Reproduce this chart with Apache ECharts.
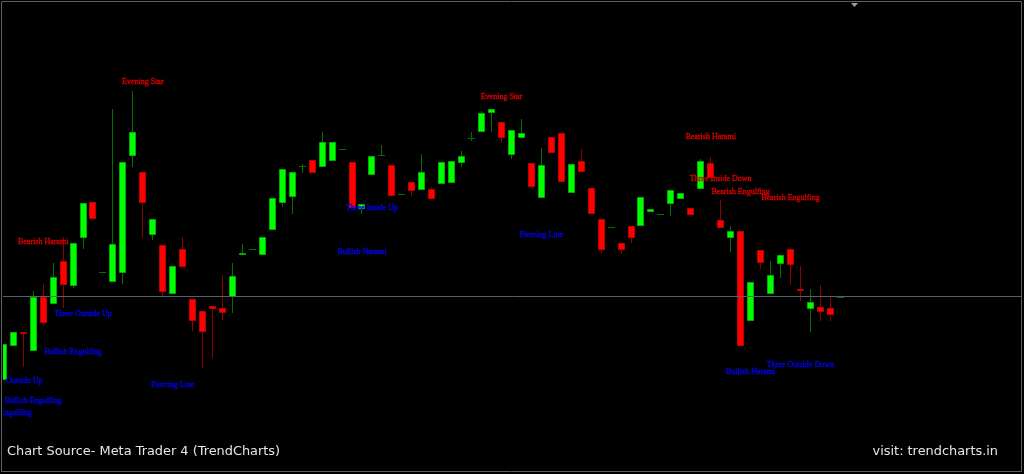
<!DOCTYPE html>
<html><head><meta charset="utf-8">
<style>html,body{margin:0;padding:0;background:#000;}#c{width:1024px;height:474px;}</style>
<script src="https://cdn.jsdelivr.net/npm/echarts@6/dist/echarts.min.js"></script>
</head><body><div id="c"></div>
<script>
// Candle values (price units)
const opens = [94.3,128.3,142,123,177.3,169.7,213,188.3,235.7,272,201.7,191.7,200.7,318.3,301.7,239,229,180,225,174.7,163,168,166,177.3,219.3,224.7,218.7,244.3,270.7,277.3,307.7,313.7,307.3,313,324.7,311.7,265,299,318.7,309,280,291.7,283.7,285.3,290.3,291,311.3,335.7,341.7,360.7,351.7,319,336.3,311,276.3,337,341,281,313.3,286.3,255,246.7,231,247.7,248,261.7,259.7,269.7,274.7,266,284.7,310.7,253.7,236.3,243,153.3,224,179.7,209.7,224.7,185,164.7,166.7,165.7,177.5];
const closes = [129.7,141.7,140.3,177.3,150.7,197,189,230.7,271.3,255,201.7,230,311.7,342.3,270.7,255.3,182.3,208,207.3,153.3,141.7,164.7,161,198.3,221.3,224.7,237,276,305.3,301.7,307.7,301,331.7,331.7,324.7,265.7,269.7,317.7,318.7,278.3,280,283,302,275.3,312.3,313,318,335.7,361,365,336.3,344,341.3,287,309,321,292.3,310,302.3,259.7,223.7,246.7,224,236.3,276.7,265,259.7,284,280.7,259.3,313.3,295.7,246.3,243,128.3,192.3,210.7,198.7,219,209,182.7,172.3,162.3,159.3,177.5];
const lows = [94,128.3,107.3,123,148.3,169.7,166.3,186.3,224.7,255,201.7,191.7,189.7,306.7,235.7,234,178,180,207.3,143.3,106.3,115.7,154,160.7,219.3,224.7,218.7,244.3,266.7,260,301,301,307.3,313,324.7,265.7,260,299,318.7,278.3,280,278,283.7,275.3,290.3,291,306.7,333,341.7,342.3,330.7,315,336.3,286,276.3,321,292.3,281,302.3,259.7,220.7,246.7,220,231.3,248,261.7,259.7,258.3,274.7,259.3,284.7,295.7,246.3,222,128.3,153.3,204.7,179.7,196.3,189,173,142.3,153.3,153,177.5];
const highs = [130,141.7,142,183,189.7,210.7,237,230.7,271.3,272,201.7,365,311.7,383,301.7,255.3,229,208,236.7,174.7,163,168,199,211.3,230,224.7,237,276,305.3,301.7,309.7,313.7,342.3,331.7,324.7,311.7,269.7,317.7,329,309,280,291.7,320,286.7,312.3,313,323.3,342.3,363,365,351.7,344,354.7,311,325.7,337,341,310,325,286.3,255,246.7,231,247.7,276.7,265,259.7,284,280.7,266,315,317.3,274,248,243,192.3,224,213,220,224.7,208,184.7,189,176.7,177.5];
const bidPrice = 177.5;

// Pattern annotations
const patternNames = ['Evening Star','Bearish Harami','Three Outside Up','Bullish Engulfing','Outside Up','Bullish Engulfing','Bullish Engulfing','Piercing Line','Bullish Harami','Three Inside Up','Evening Star','Piercing Line','Bearish Harami','Three Inside Down','Bearish Engulfing','Bearish Engulfing','Bullish Harami','Three Outside Down'];
const patternBar = [14,4,8,7,2.1,3,0,17,36,37,50,54,71,72,74,79,75,80];
const patternPrice = [392.3,232.3,160,122,93.3,73,61,88.7,221.7,265.7,376.7,238.7,337.3,294.7,282.3,275.7,102.3,109];
const patternBearish = [1,1,0,0,0,0,0,0,0,0,1,0,1,1,1,1,0,0];

const footerLeft = 'Chart Source- Meta Trader 4 (TrendCharts)';
const footerRight = 'visit: trendcharts.in';

const candleData = opens.map((o, i) => [i, o, closes[i], lows[i], highs[i]]);
const labelData = patternNames.map((n, i) => [patternBar[i], patternPrice[i], i]);

function renderCandle(params, api) {
  const i = api.value(0), o = api.value(1), c = api.value(2), l = api.value(3), h = api.value(4);
  const pO = api.coord([i, o]), pC = api.coord([i, c]), pL = api.coord([i, l]), pH = api.coord([i, h]);
  const x = Math.floor(pO[0]) + 0.5;
  const bull = c > o, bear = c < o;
  const wick = bear ? '#8c0000' : '#007000';
  const ch = [];
  if (h > l) ch.push({type: 'line', shape: {x1: x, y1: Math.round(pH[1]), x2: x, y2: Math.round(pL[1])}, style: {stroke: wick, lineWidth: 1}});
  if (bull || bear) {
    const top = Math.round(Math.min(pO[1], pC[1])) + 0.5, bot = Math.round(Math.max(pO[1], pC[1])) - 0.5;
    ch.push({type: 'rect', shape: {x: x - 3, y: top, width: 6, height: Math.max(bot - top, 0)},
      style: {fill: bull ? '#00ff00' : '#ff0000', stroke: bull ? '#00b000' : '#c00000', lineWidth: 1}});
  } else {
    const y = Math.round(pO[1]) + 0.5;
    ch.push({type: 'line', shape: {x1: x - 3.5, y1: y, x2: x + 3.5, y2: y}, style: {stroke: wick, lineWidth: 1}});
  }
  return {type: 'group', children: ch};
}

function renderLabel(params, api) {
  const p = api.coord([api.value(0), api.value(1)]);
  const k = api.value(2);
  const col = patternBearish[k] ? '#d80000' : '#0000e8';
  return {type: 'text', x: p[0], y: p[1], style: {
    text: patternNames[k], fill: col, stroke: col, lineWidth: 0.35,
    font: '8px "Liberation Serif"', align: 'center', verticalAlign: 'middle'}};
}

const chart = echarts.init(document.getElementById('c'), null, {renderer: 'canvas'});
chart.setOption({
  backgroundColor: '#000000',
  animation: false,
  grid: {left: 3, right: 2, top: 0, bottom: 0},
  xAxis: {type: 'value', min: -0.03, max: 102.24, show: false},
  yAxis: {type: 'value', min: 0, max: 474, show: false, splitLine: {show: false}},
  series: [
    {type: 'custom', name: 'candles', renderItem: renderCandle, data: candleData, clip: true,
      encode: {x: 0, y: [1, 2, 3, 4]},
      markLine: {silent: true, symbol: 'none', label: {show: false},
        lineStyle: {color: '#56616c', width: 1, type: 'solid'}, data: [{yAxis: bidPrice}]}},
    {type: 'custom', name: 'patterns', renderItem: renderLabel, data: labelData, clip: true, z: 3,
      encode: {x: 0, y: 1}}
  ],
  graphic: [
    {type: 'rect', shape: {x: 1.5, y: 1.5, width: 1020, height: 470}, style: {fill: null, stroke: '#5f5f5f', lineWidth: 1}, silent: true},
    {type: 'polygon', shape: {points: [[851, 3], [858, 3], [854.5, 7]]}, style: {fill: '#8fa3b3'}, silent: true},
    {type: 'text', x: 7, y: 452, style: {text: footerLeft, fill: '#e6e6e6', font: '12.9px "DejaVu Sans"', verticalAlign: 'middle'}},
    {type: 'text', x: 998, y: 452, style: {text: footerRight, fill: '#e6e6e6', font: '12.9px "DejaVu Sans"', align: 'right', verticalAlign: 'middle'}}
  ]
});
</script></body></html>
